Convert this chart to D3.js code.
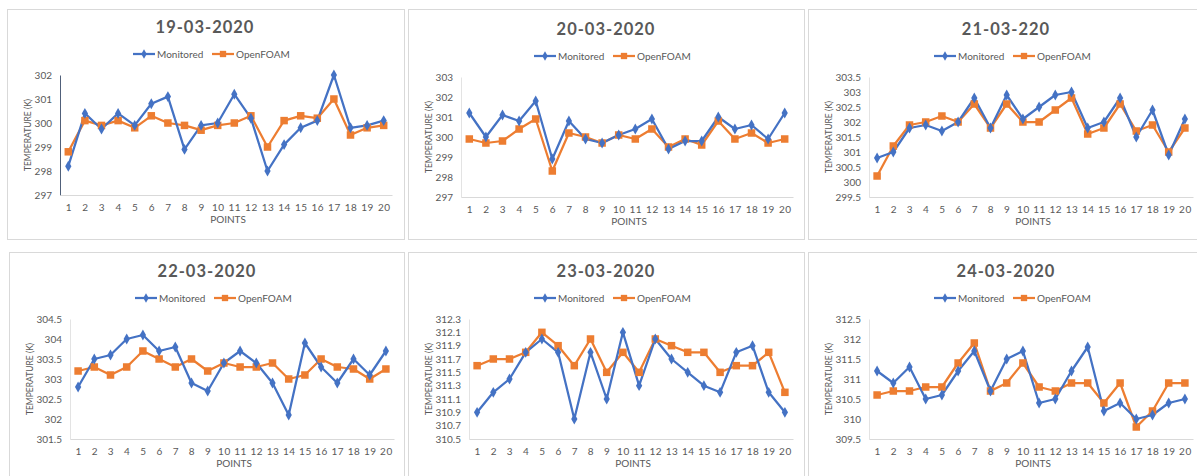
<!DOCTYPE html>
<html>
<head>
<meta charset="utf-8">
<script src="https://cdn.jsdelivr.net/npm/d3@7"></script>
<style>
  body { margin: 0; background: #fff; }
  svg { display: block; font-family: Lato, "Open Sans", sans-serif; }
</style>
</head>
<body>
<div id="chart"></div>
<script>
// x categories shared by every panel
const points = [1, 2, 3, 4, 5, 6, 7, 8, 9, 10, 11, 12, 13, 14, 15, 16, 17, 18, 19, 20];

const titles = ['19-03-2020', '20-03-2020', '21-03-220', '22-03-2020', '23-03-2020', '24-03-2020'];

// y tick labels per panel
const ticks1903 = [297, 298, 299, 300, 301, 302];
const ticks2003 = [297, 298, 299, 300, 301, 302, 303];
const ticks2103 = [299.5, 300, 300.5, 301, 301.5, 302, 302.5, 303, 303.5];
const ticks2203 = [301.5, 302, 302.5, 303, 303.5, 304, 304.5];
const ticks2303 = [310.5, 310.7, 310.9, 311.1, 311.3, 311.5, 311.7, 311.9, 312.1, 312.3];
const ticks2403 = [309.5, 310, 310.5, 311, 311.5, 312, 312.5];

// temperature (K), monitored vs OpenFOAM
const mon1903  = [298.2, 300.4, 299.75, 300.4, 299.9, 300.8, 301.1, 298.9, 299.9, 300.0, 301.2, 300.2, 298.0, 299.1, 299.8, 300.1, 302.0, 299.8, 299.9, 300.1];
const foam1903 = [298.8, 300.1, 299.9, 300.1, 299.8, 300.3, 300.0, 299.9, 299.7, 299.9, 300.0, 300.3, 299.0, 300.1, 300.3, 300.2, 301.0, 299.5, 299.8, 299.9];

const mon2003  = [301.2, 300.0, 301.1, 300.8, 301.8, 298.9, 300.8, 299.9, 299.7, 300.1, 300.4, 300.9, 299.4, 299.8, 299.8, 301.0, 300.4, 300.6, 299.9, 301.2];
const foam2003 = [299.9, 299.7, 299.8, 300.4, 300.9, 298.3, 300.2, 300.0, 299.7, 300.1, 299.9, 300.4, 299.5, 299.9, 299.6, 300.8, 299.9, 300.2, 299.7, 299.9];

const mon2103  = [300.8, 301.0, 301.8, 301.9, 301.7, 302.0, 302.8, 301.8, 302.9, 302.1, 302.5, 302.9, 303.0, 301.8, 302.0, 302.8, 301.5, 302.4, 300.9, 302.1];
const foam2103 = [300.2, 301.2, 301.9, 302.0, 302.2, 302.0, 302.6, 301.8, 302.6, 302.0, 302.0, 302.4, 302.8, 301.6, 301.8, 302.6, 301.7, 301.9, 301.0, 301.8];

const mon2203  = [302.8, 303.5, 303.6, 304.0, 304.1, 303.7, 303.8, 302.9, 302.7, 303.4, 303.7, 303.4, 302.9, 302.1, 303.9, 303.3, 302.9, 303.5, 303.1, 303.7];
const foam2203 = [303.2, 303.3, 303.1, 303.3, 303.7, 303.5, 303.3, 303.5, 303.2, 303.4, 303.3, 303.3, 303.4, 303.0, 303.1, 303.5, 303.3, 303.25, 303.0, 303.25];

const mon2303  = [310.9, 311.2, 311.4, 311.8, 312.0, 311.8, 310.8, 311.8, 311.1, 312.1, 311.3, 312.0, 311.7, 311.5, 311.3, 311.2, 311.8, 311.9, 311.2, 310.9];
const foam2303 = [311.6, 311.7, 311.7, 311.8, 312.1, 311.9, 311.6, 312.0, 311.5, 311.8, 311.5, 312.0, 311.9, 311.8, 311.8, 311.5, 311.6, 311.6, 311.8, 311.2];

const mon2403  = [311.2, 310.9, 311.3, 310.5, 310.6, 311.2, 311.7, 310.7, 311.5, 311.7, 310.4, 310.5, 311.2, 311.8, 310.2, 310.4, 310.0, 310.1, 310.4, 310.5];
const foam2403 = [310.6, 310.7, 310.7, 310.8, 310.8, 311.4, 311.9, 310.7, 310.9, 311.4, 310.8, 310.7, 310.9, 310.9, 310.4, 310.9, 309.8, 310.2, 310.9, 310.9];

const panels = [
  {title: titles[0], ticks: ticks1903, mon: mon1903, foam: foam1903, x: 7,   y: 9,   w: 397, h: 230, dy: -1, axisColor: '#50607a'},
  {title: titles[1], ticks: ticks2003, mon: mon2003, foam: foam2003, x: 408, y: 9,   w: 396, h: 230, dy: 1},
  {title: titles[2], ticks: ticks2103, mon: mon2103, foam: foam2103, x: 808, y: 9,   w: 400, h: 230, dy: 1},
  {title: titles[3], ticks: ticks2203, mon: mon2203, foam: foam2203, x: 9,   y: 252, w: 395, h: 240, dy: 0},
  {title: titles[4], ticks: ticks2303, mon: mon2303, foam: foam2303, x: 408, y: 252, w: 396, h: 240, dy: 0},
  {title: titles[5], ticks: ticks2403, mon: mon2403, foam: foam2403, x: 808, y: 252, w: 400, h: 240, dy: 0}
];

const blue = '#4472c4';
const orange = '#ed7d31';
const textGray = '#595959';

const svg = d3.select('#chart')
              .append('svg')
              .attr('width', 1197)
              .attr('height', 476);

panels.forEach(p => drawPanel(p));

function drawPanel(p) {
  const g = svg.append('g').attr('transform', `translate(${p.x},${p.y + p.dy})`);

  // frame
  g.append('rect')
   .attr('x', 0.5).attr('y', 0.5 - p.dy)
   .attr('width', p.w).attr('height', p.h)
   .attr('fill', '#fff')
   .attr('stroke', '#d9d9d9');

  const cx = 198;
  const decimals = p.ticks.some(t => t % 1 !== 0);
  const left = decimals ? 61 : 53;
  const right = 385;
  const top = 67, bottom = 187;

  g.append('text')
   .attr('x', cx).attr('y', 25)
   .attr('text-anchor', 'middle')
   .attr('font-size', '16.5px')
   .attr('font-weight', 'bold')
   .attr('letter-spacing', '1px')
   .attr('fill', textGray)
   .text(p.title);

  // legend
  const ly = 46;
  const legend = [
    {name: 'Monitored', color: blue, shape: d3.symbolDiamond, size: 26, x0: cx - 72},
    {name: 'OpenFOAM', color: orange, shape: d3.symbolSquare, size: 40, x0: cx + 7}
  ];
  legend.forEach(l => {
    g.append('line')
     .attr('x1', l.x0).attr('x2', l.x0 + 22)
     .attr('y1', ly).attr('y2', ly)
     .attr('stroke', l.color).attr('stroke-width', 2.25);
    g.append('path')
     .attr('d', d3.symbol().type(l.shape).size(l.size)())
     .attr('transform', `translate(${l.x0 + 11},${ly})`)
     .attr('fill', l.color);
    g.append('text')
     .attr('x', l.x0 + 24).attr('y', ly + 3.5)
     .attr('font-size', '10px')
     .attr('fill', textGray)
     .text(l.name);
  });

  const x = d3.scalePoint()
              .domain(points)
              .range([left, right])
              .padding(0.5);

  const y = d3.scaleLinear()
              .domain(d3.extent(p.ticks))
              .range([bottom, top]);

  // y axis
  const yAxis = g.append('g')
                 .attr('transform', `translate(${left},0)`)
                 .call(d3.axisLeft(y).tickValues(p.ticks).tickSize(0).tickPadding(8)
                         .tickFormat(d => String(+d.toFixed(1))));
  yAxis.select('.domain').attr('stroke', p.axisColor || '#e3e3e3').attr('stroke-width', 1);
  yAxis.selectAll('text').attr('font-size', '10px').attr('fill', textGray).attr('font-family', 'Lato');

  // x axis
  const xAxis = g.append('g')
                 .attr('transform', `translate(0,${bottom})`)
                 .call(d3.axisBottom(x).tickSize(0).tickPadding(9));
  xAxis.select('.domain').attr('stroke', '#d9d9d9');
  xAxis.selectAll('text').attr('font-size', '10px').attr('fill', textGray).attr('font-family', 'Lato')
       .attr('letter-spacing', '0.5px');

  g.append('text')
   .attr('x', (left + right) / 2 + 2).attr('y', 215)
   .attr('text-anchor', 'middle')
   .attr('font-size', '10px')
   .attr('fill', textGray)
   .text('POINTS');

  g.append('text')
   .attr('transform', `translate(24,${(top + bottom) / 2}) rotate(-90)`)
   .attr('text-anchor', 'middle')
   .attr('font-size', '8.5px')
   .attr('fill', textGray)
   .text('TEMPERATURE (K)');

  const line = d3.line()
                 .x((d, i) => x(points[i]))
                 .y(d => y(d));

  [{vals: p.foam, color: orange}, {vals: p.mon, color: blue}].forEach(s => {
    g.append('path')
     .datum(s.vals)
     .attr('d', line)
     .attr('fill', 'none')
     .attr('stroke', s.color)
     .attr('stroke-width', 2.25)
     .attr('stroke-linejoin', 'round');
  });

  g.selectAll('.sq')
   .data(p.foam)
   .enter()
   .append('rect')
   .attr('x', (d, i) => x(points[i]) - 3.75)
   .attr('y', d => y(d) - 3.75)
   .attr('width', 7.5)
   .attr('height', 7.5)
   .attr('fill', orange);

  g.selectAll('.dm')
   .data(p.mon)
   .enter()
   .append('path')
   .attr('d', d3.symbol().type(d3.symbolDiamond).size(34)())
   .attr('transform', (d, i) => `translate(${x(points[i])},${y(d)})`)
   .attr('fill', blue);
}
</script>
</body>
</html>
